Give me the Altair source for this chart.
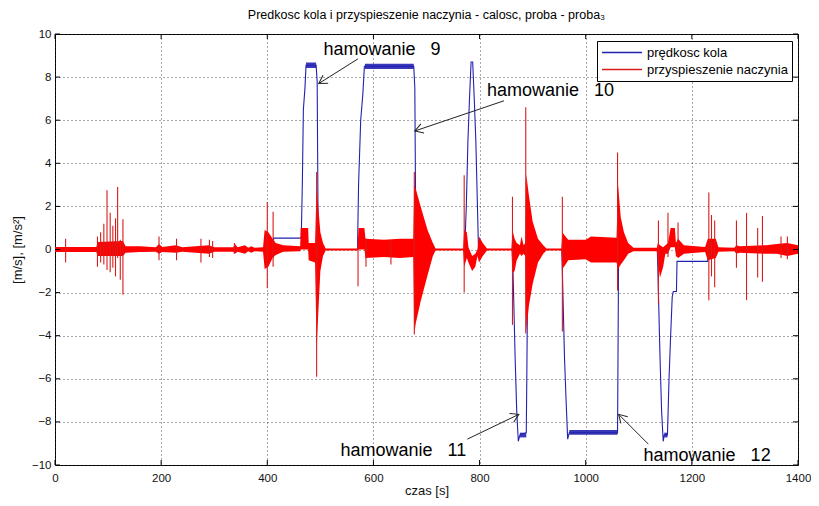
import math
import altair as alt
import pandas as pd

TOTAL_W, TOTAL_H = 803, 490
PLOT_W, PLOT_H = 746, 433   # approximate plot size left after axes (used for arrow angles)
X_DOMAIN = [0, 1400]
Y_DOMAIN = [-10, 10]
FONT = "Liberation Sans"
BLUE = "#2222b0"
RED = "#ff0000"
SPIKE_RED = "#d81c1c"

title_text = "Predkosc kola i przyspieszenie naczynia - calosc, proba - proba\u2083"
x_title = "czas [s]"
y_title = "[m/s], [m/s\u00b2]"
series_names = ["prędkosc kola", "przyspieszenie naczynia"]

x_ticks = [0, 200, 400, 600, 800, 1000, 1200, 1400]
y_ticks = [-10, -8, -6, -4, -2, 0, 2, 4, 6, 8, 10]

# wheel speed (blue)
blue_t = [0, 411, 412, 464, 466, 468, 471, 473, 492, 494, 496,
          570, 572, 576, 580, 583, 676, 678, 680,
          772, 775, 778, 781, 784, 787, 790, 793, 796, 798,
          862, 864, 867, 870, 873, 876, 888, 889, 891,
          955, 957, 960, 963, 966, 969, 1060, 1062,
          1135, 1137, 1140, 1143, 1146, 1148, 1154, 1157, 1160, 1163, 1165, 1171, 1172,
          1230, 1231, 1400]
blue_v = [0, 0, 0.53, 0.53, 3.0, 6.5, 7.5, 8.55, 8.55, 7.8, 0,
          0, 3.0, 6.0, 7.2, 8.5, 8.5, 7.5, 0,
          0, 2.0, 5.0, 7.0, 8.7, 8.7, 7.0, 5.0, 2.0, 0,
          0, -2.0, -5.0, -7.5, -8.9, -8.6, -8.5, -6.0, 0,
          0, -2.0, -5.0, -7.0, -8.8, -8.5, -8.5, 0,
          0, -2.0, -5.0, -7.5, -8.9, -8.6, -8.6, -6.0, -4.0, -2.2, -1.95, -1.95, -0.55,
          -0.55, 0, 0]

# ripple band on the speed plateaus
band_t0 = [473, 584, 876, 969, 1148]
band_t1 = [492, 676, 888, 1060, 1154]
band_lo = [8.42, 8.38, -8.72, -8.6, -8.72]
band_hi = [8.68, 8.62, -8.5, -8.38, -8.5]

# vessel acceleration (red): envelope of the dense oscillation
env_t = [0, 78, 80, 128, 133, 160, 190, 196, 202, 228, 240, 290, 300, 336, 339, 344,
         358, 364, 370, 376, 392, 395, 402, 410, 416, 430, 462, 463, 477, 478, 490,
         493, 496, 500, 505, 510, 570, 572, 583, 585, 620, 650, 675, 677, 680, 689,
         702, 712, 717, 769, 771, 776, 779, 786, 792, 796, 799, 806, 814, 860, 862,
         866, 870, 876, 879, 883, 886, 888, 893, 900, 910, 920, 926, 954, 956, 962,
         967, 1000, 1010, 1058, 1061, 1066, 1072, 1080, 1090, 1134, 1136, 1140, 1146,
         1150, 1155, 1160, 1168, 1170, 1174, 1185, 1225, 1230, 1245, 1250, 1280, 1284,
         1290, 1340, 1360, 1380, 1400]
env_hi = [0.12, 0.12, 0.35, 0.4, 0.15, 0.15, 0.1, 0.25, 0.12, 0.2, 0.1, 0.2, 0.1, 0.1, 0.25, 0.1,
          0.2, 0.08, 0.15, 0.08, 0.1, 0.9, 0.8, 0.5, 0.3, 0.2, 0.15, 1.0, 1.0, 0.3, 0.3,
          3.0, 2.0, 0.8, 0.3, 0.05, 0.05, 1.0, 1.0, 0.5, 0.45, 0.5, 0.5, 3.0, 2.8, 2.0,
          0.9, 0.3, 0.05, 0.05, 0.9, 0.8, 0.1, -0.3, -0.2, 0.0, 0.6, 0.3, 0.05, 0.05, 0.9,
          0.5, 0.3, 0.2, 0.6, 0.2, 0.3, 3.5, 2.5, 1.3, 0.5, 0.2, 0.05, 0.05, 0.8, 0.6,
          0.45, 0.45, 0.6, 0.55, 3.0, 1.5, 0.8, 0.3, 0.08, 0.08, 0.3, 0.2, 0.1,
          0.2, 0.3, 1.0, 1.0, 0.3, 0.5, 0.2, 0.12, 0.5, 0.5, 0.1, 0.08, 0.2,
          0.15, 0.2, 0.25, 0.3, 0.2]
env_lo = [-0.12, -0.12, -0.3, -0.3, -0.15, -0.12, -0.1, -0.2, -0.12, -0.15, -0.1, -0.2, -0.1, -0.1, -0.2, -0.1,
          -0.2, -0.08, -0.15, -0.08, -0.1, -0.9, -0.8, -0.4, -0.25, -0.1, -0.08, 0.0, 0.0, -0.5, -0.6,
          -4.6, -3.0, -1.0, -0.3, -0.05, -0.05, 0.0, 0.0, -0.4, -0.35, -0.4, -0.35, -3.9, -3.4, -2.4,
          -1.2, -0.3, -0.05, -0.05, -0.8, -0.4, -0.6, -1.0, -0.8, -0.3, -0.6, -0.3, -0.05, -0.05, -1.1,
          -1.0, -0.5, -0.2, -0.3, -0.2, -0.3, -3.8, -2.6, -1.6, -0.6, -0.2, -0.05, -0.05, -0.9, -0.7,
          -0.5, -0.45, -0.6, -0.6, -0.9, -0.7, -0.5, -0.2, -0.08, -0.08, -0.6, -1.3, -0.8,
          -0.2, -0.2, 0.1, 0.1, -0.3, -0.4, -0.2, -0.12, -0.5, -0.4, -0.1, -0.08, -0.2,
          -0.15, -0.2, -0.2, -0.3, -0.2]

# isolated acceleration spikes
spike_t = [20, 80, 86, 92, 98, 104, 109, 114, 118, 123, 128, 196, 229, 275, 291, 297, 338,
           400, 411, 493, 571, 586, 633, 677, 771, 862, 887, 956, 1060, 1137, 1155, 1174,
           1232, 1237, 1243, 1284, 1303, 1324, 1333, 1368, 1380]
spike_hi = [0.5, 0.6, 0.8, 1.2, 2.75, 1.7, 1.1, 1.45, 2.9, 0.45, 1.4, 0.6, 0.5, 0.5, 0.45, 0.4, 0.3,
            2.2, 1.75, 3.6, 0.3, 0.5, 0.4, 3.6, 3.45, 2.45, 6.6, 2.45, 4.5, 1.35, 1.7, 1.25,
            2.65, 1.6, 1.35, 1.35, 1.7, 1.0, 1.55, 0.6, 0.6]
spike_lo = [-0.6, -0.8, -0.6, -0.7, -0.95, -1.05, -0.85, -1.25, -0.4, -1.4, -2.1, -0.5, -0.5, -0.6, -0.35, -0.4, -0.2,
            -1.8, -0.8, -5.9, -1.7, -0.8, -0.7, -3.95, -2.0, -3.5, -3.9, -3.8, -1.9, -2.5, -0.35, -0.35,
            -2.35, -1.25, -1.75, -0.85, -2.35, -1.3, -1.5, -0.4, -0.45]

# annotations
ann_text = ["hamowanie\u00a0\u00a0\u00a09", "hamowanie\u00a0\u00a0\u00a010",
            "hamowanie\u00a0\u00a0\u00a011", "hamowanie\u00a0\u00a0\u00a012"]
ann_tx = [506, 814, 538, 1109]
ann_ty = [9.03, 7.14, -9.59, -9.8]
arr_t0 = [571, 846, 777, 1118]
arr_v0 = [8.85, 6.9, -8.8, -9.03]
arr_t1 = [497, 678, 874, 1062]
arr_v1 = [7.7, 5.5, -7.65, -7.65]

# ---------------------------------------------------------------
blue_df = pd.DataFrame({"t": blue_t, "v": blue_v, "series": series_names[0]})
band_df = pd.DataFrame({"t": band_t0, "t2": band_t1, "v": band_lo, "v2": band_hi})
env_df = pd.DataFrame({"t": env_t, "v": env_lo, "v2": env_hi})
spike_df = pd.DataFrame({"t": spike_t, "v": spike_lo, "v2": spike_hi, "series": series_names[1]})
ann_df = pd.DataFrame({"t": ann_tx, "v": ann_ty, "label": ann_text})

sx = PLOT_W / (X_DOMAIN[1] - X_DOMAIN[0])
sy = PLOT_H / (Y_DOMAIN[1] - Y_DOMAIN[0])
angles = [math.degrees(math.atan2(-(b1 - b0) * sy, (a1 - a0) * sx)) % 360
          for a0, b0, a1, b1 in zip(arr_t0, arr_v0, arr_t1, arr_v1)]
arr_df = pd.DataFrame({"t": arr_t0, "v": arr_v0, "t2": arr_t1, "v2": arr_v1, "ang": angles})
head_df = pd.DataFrame({"t": arr_t1, "v": arr_v1, "ang": angles})

xtick_df = pd.DataFrame({"t": x_ticks})
ytick_df = pd.DataFrame({"v": y_ticks})

axis_common = dict(grid=True, tickSize=0, domain=False, format="d", labelFlush=False,
                   gridColor="#333333", gridDash=[1, 3], gridOpacity=0.85, gridWidth=1,
                   labelFont=FONT, titleFont=FONT, labelFontSize=11.5, titleFontSize=13,
                   titleFontWeight="normal", labelColor="#111111", titleColor="#111111")
xscale = alt.Scale(domain=X_DOMAIN, nice=False, zero=False)
yscale = alt.Scale(domain=Y_DOMAIN, nice=False, zero=False)
xaxis = alt.Axis(values=x_ticks, title=x_title, labelPadding=7, titlePadding=1, **axis_common)
yaxis = alt.Axis(values=y_ticks, title=y_title, labelPadding=4, titlePadding=7, **axis_common)


def X(field="t"):
    return alt.X(f"{field}:Q", scale=xscale, axis=xaxis)


def Y(field="v"):
    return alt.Y(f"{field}:Q", scale=yscale, axis=yaxis)


color_enc = alt.Color(
    "series:N",
    scale=alt.Scale(domain=series_names, range=[BLUE, SPIKE_RED]),
    legend=alt.Legend(orient="none", legendX=542, legendY=7, title=None,
                      symbolType="stroke", symbolSize=1600, symbolStrokeWidth=1.5,
                      labelFontSize=13, labelFont=FONT, labelColor="black",
                      padding=4, strokeColor="black", fillColor="white",
                      cornerRadius=0, rowPadding=2, labelOffset=4, labelLimit=300,
                      clipHeight=15),
)

band = alt.Chart(band_df).mark_rect(color=BLUE, opacity=0.9).encode(
    x=X(), x2="t2:Q", y=Y(), y2="v2:Q")
blue_line = alt.Chart(blue_df).mark_line(strokeWidth=1.1, clip=True).encode(
    x=X(), y=Y(), color=color_enc)
red_area = alt.Chart(env_df).mark_area(color=RED, opacity=1, clip=True).encode(
    x=X(), y=Y(), y2="v2:Q")
spikes = alt.Chart(spike_df).mark_rule(strokeWidth=1.1, clip=True).encode(
    x=X(), y=Y(), y2="v2:Q", color=color_enc)

tick_style = dict(color="black", strokeWidth=1)
xt_bottom = alt.Chart(xtick_df).mark_rule(**tick_style).encode(
    x=X(), y=alt.YValue(alt.ExprRef("height")), y2=alt.YValue(alt.ExprRef("height - 5")))
xt_top = alt.Chart(xtick_df).mark_rule(**tick_style).encode(
    x=X(), y=alt.value(0), y2=alt.value(5))
yt_left = alt.Chart(ytick_df).mark_rule(**tick_style).encode(
    y=Y(), x=alt.value(0), x2=alt.value(5))
yt_right = alt.Chart(ytick_df).mark_rule(**tick_style).encode(
    y=Y(), x=alt.XValue(alt.ExprRef("width")), x2=alt.XValue(alt.ExprRef("width - 5")))

arrows = alt.Chart(arr_df).mark_rule(color="#222222", strokeWidth=1).encode(
    x=X(), y=Y(), x2="t2:Q", y2="v2:Q")
heads = alt.Chart(head_df).mark_point(
    shape="M -1 -0.6 L 0 0 L -1 0.6", filled=False, size=260, color="#222222",
    strokeWidth=1, opacity=1).encode(
    x=X(), y=Y(), angle=alt.Angle("ang:Q", scale=None))
labels = alt.Chart(ann_df).mark_text(
    align="left", baseline="alphabetic", fontSize=18, font=FONT, color="black").encode(
    x=X(), y=Y(), text="label:N")

chart = alt.layer(
    band, blue_line, red_area, spikes,
    xt_bottom, xt_top, yt_left, yt_right,
    arrows, heads, labels,
).properties(
    width=TOTAL_W, height=TOTAL_H, background="white",
    autosize=alt.AutoSizeParams(type="fit", contains="padding"),
    padding={"left": 3, "top": 0, "right": 0, "bottom": 0},
    title=alt.TitleParams(title_text, fontSize=12.5, fontWeight="normal", font=FONT,
                          color="black", offset=7, anchor="middle"),
).configure_view(
    stroke="black", strokeWidth=1,
)

chart.save("out.html", embed_options={"renderer": "svg", "actions": False})
